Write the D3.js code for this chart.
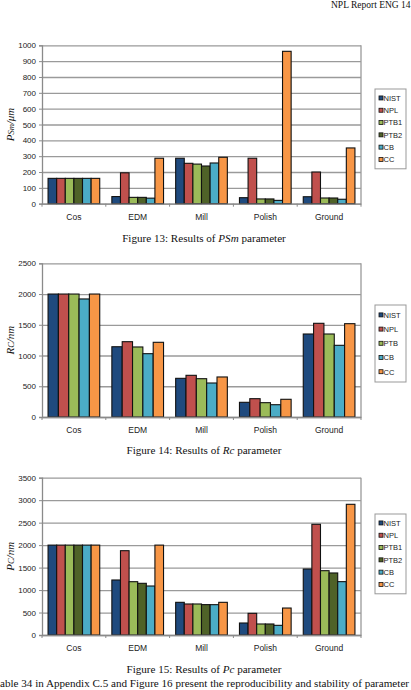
<!DOCTYPE html>
<html>
<head>
<meta charset="utf-8">
<script src="https://cdn.jsdelivr.net/npm/d3@7"></script>
<style>
  body { margin: 0; background: #fff; }
  svg { display: block; }
</style>
</head>
<body>
<div id="chart-area"></div>
<script>
// values
var categories = ["Cos", "EDM", "Mill", "Polish", "Ground"];

var psmSeries = ["NIST", "NPL", "PTB1", "PTB2", "CB", "CC"];
var psmValues = [
    [160, 160, 160, 160, 160, 160],
    [45, 195, 40, 40, 35, 287],
    [287, 255, 250, 238, 257, 293],
    [38, 287, 30, 30, 21, 962],
    [44, 200, 36, 36, 28, 352]
];
var psmTicks = [0, 100, 200, 300, 400, 500, 600, 700, 800, 900, 1000];

var rcSeries = ["NIST", "NPL", "PTB", "CB", "CC"];
var rcValues = [
    [2000, 2000, 2000, 1920, 2000],
    [1143, 1225, 1139, 1030, 1215],
    [629, 678, 623, 553, 651],
    [239, 298, 233, 200, 288],
    [1350, 1524, 1350, 1166, 1518]
];
var rcTicks = [0, 500, 1000, 1500, 2000, 2500];

var pcSeries = ["NIST", "NPL", "PTB1", "PTB2", "CB", "CC"];
var pcValues = [
    [2000, 2000, 2000, 2000, 2000, 2000],
    [1224, 1876, 1186, 1150, 1090, 2000],
    [727, 690, 690, 676, 675, 727],
    [267, 482, 245, 245, 215, 600],
    [1468, 2463, 1431, 1380, 1187, 2908]
];
var pcTicks = [0, 500, 1000, 1500, 2000, 2500, 3000, 3500];

var colors = {
    NIST: "#1f4a7e", NPL: "#c0504d", PTB: "#9bbb59", PTB1: "#9bbb59",
    PTB2: "#4f6228", CB: "#4bacc6", CC: "#f79646"
};

var W = 411, H = 690;
var svg = d3.select("#chart-area").append("svg")
    .attr("width", W)
    .attr("height", H);

// page header and running text
svg.append("text")
    .attr("x", 331).attr("y", 8)
    .attr("font-family", "Liberation Serif")
    .attr("font-size", "9.5px")
    .attr("fill", "#111")
    .text("NPL Report ENG 14");

svg.append("text")
    .attr("x", 0).attr("y", 687)
    .attr("font-family", "Liberation Serif")
    .attr("font-size", "11px")
    .attr("textLength", 409)
    .attr("lengthAdjust", "spacingAndGlyphs")
    .attr("fill", "#111")
    .text("able 34 in Appendix C.5 and Figure 16 present the reproducibility and stability of parameter");

function drawChart(cfg) {
    var left = 42, right = 361;
    var top = cfg.top, bottom = cfg.bottom;
    var g = svg.append("g");

    var x0 = d3.scaleBand()
        .domain(categories)
        .range([left, right])
        .paddingInner(0.19)
        .paddingOuter(0.095);
    var x1 = d3.scaleBand()
        .domain(cfg.series)
        .range([0, x0.bandwidth()]);
    var y = d3.scaleLinear()
        .domain([0, d3.max(cfg.ticks)])
        .range([bottom, top]);

    // gridlines
    g.append("g")
        .attr("transform", "translate(" + left + ",0)")
        .call(d3.axisLeft(y).tickValues(cfg.ticks).tickSize(-(right - left)).tickFormat(""))
        .call(s => s.select(".domain").remove())
        .selectAll("line")
            .attr("stroke", "#9a9a9a")
            .attr("stroke-width", 1.3);

    // right border
    g.append("line")
        .attr("x1", right).attr("x2", right)
        .attr("y1", y(d3.max(cfg.ticks))).attr("y2", bottom)
        .attr("stroke", "#9a9a9a").attr("stroke-width", 1.3);

    // bars
    var groups = g.selectAll("g.cat")
        .data(cfg.values)
        .enter().append("g")
        .attr("class", "cat")
        .attr("transform", (d, i) => "translate(" + x0(categories[i]) + ",0)");

    groups.selectAll("rect")
        .data(d => d.map((v, j) => ({ name: cfg.series[j], value: v })))
        .enter().append("rect")
        .attr("x", d => x1(d.name))
        .attr("y", d => y(d.value))
        .attr("width", x1.bandwidth())
        .attr("height", d => bottom - y(d.value))
        .attr("fill", d => colors[d.name])
        .attr("stroke", "#111")
        .attr("stroke-width", 1.1);

    // left axis
    g.append("g")
        .attr("transform", "translate(" + left + ",0)")
        .call(d3.axisLeft(y).tickValues(cfg.ticks).tickFormat(d3.format("d")).tickSize(3).tickPadding(3))
        .call(s => s.select(".domain").attr("stroke", "#8a8a8a").attr("stroke-width", 1.3))
        .call(s => s.selectAll("line").attr("stroke", "#8a8a8a"))
        .selectAll("text")
            .attr("font-family", "Liberation Sans")
            .attr("font-size", "8px")
            .attr("fill", "#222");

    // bottom axis
    var bx = g.append("g")
        .attr("transform", "translate(0," + bottom + ")")
        .call(d3.axisBottom(x0).tickSize(0).tickPadding(10).tickSizeOuter(0))
        .call(s => s.select(".domain").attr("stroke", "#8a8a8a").attr("stroke-width", 1.3));
    bx.selectAll("text")
        .attr("font-family", "Liberation Sans")
        .attr("font-size", "8.5px")
        .attr("fill", "#222");
    bx.selectAll("line.sep")
        .data(d3.range(categories.length + 1))
        .enter().append("line")
        .attr("class", "sep")
        .attr("x1", i => left + i * x0.step())
        .attr("x2", i => left + i * x0.step())
        .attr("y1", 0).attr("y2", 3)
        .attr("stroke", "#8a8a8a");

    // y label
    var yl = g.append("text")
        .attr("transform", "translate(14," + ((top + bottom) / 2) + ") rotate(-90)")
        .attr("text-anchor", "middle")
        .attr("font-family", "Liberation Serif")
        .attr("font-style", "italic")
        .attr("font-size", "11px")
        .attr("fill", "#111");
    yl.append("tspan").text(cfg.yMain);
    yl.append("tspan").attr("font-size", "8.5px").text(cfg.ySub);
    yl.append("tspan").text(cfg.yUnit);

    // legend
    var lg = g.append("g")
        .attr("transform", "translate(375," + cfg.legendTop + ")");
    lg.append("rect")
        .attr("width", 31)
        .attr("height", cfg.series.length * cfg.legendStep + 6)
        .attr("fill", "#fff")
        .attr("stroke", "#999")
        .attr("stroke-width", 1);
    var items = lg.selectAll("g.item")
        .data(cfg.series)
        .enter().append("g")
        .attr("class", "item")
        .attr("transform", (d, i) => "translate(3," + (3 + cfg.legendStep * (i + 0.5)) + ")");
    items.append("rect")
        .attr("x", 1).attr("y", -2.2)
        .attr("width", 4).attr("height", 4)
        .attr("fill", d => colors[d])
        .attr("stroke", "#111")
        .attr("stroke-width", 0.8);
    items.append("text")
        .attr("x", 5.5).attr("y", 2.7)
        .attr("font-family", "Liberation Sans")
        .attr("font-size", "7.5px")
        .attr("fill", "#222")
        .text(d => d);

    // caption
    var cap = svg.append("text")
        .attr("x", 204).attr("y", cfg.captionY)
        .attr("text-anchor", "middle")
        .attr("font-family", "Liberation Serif")
        .attr("font-size", "11.1px")
        .attr("fill", "#111");
    cap.append("tspan").text(cfg.caption[0]);
    cap.append("tspan").attr("font-style", "italic").text(cfg.caption[1]);
    cap.append("tspan").text(cfg.caption[2]);
}

drawChart({
    top: 45.3, bottom: 203.7, series: psmSeries, values: psmValues, ticks: psmTicks,
    yMain: "P", ySub: "Sm", yUnit: "/\u03bcm",
    legendTop: 89, legendStep: 12.3,
    captionY: 242, caption: ["Figure 13: Results of ", "PSm", " parameter"]
});

drawChart({
    top: 263.3, bottom: 417, series: rcSeries, values: rcValues, ticks: rcTicks,
    yMain: "R", ySub: "C", yUnit: "/nm",
    legendTop: 305, legendStep: 14.2,
    captionY: 454, caption: ["Figure 14: Results of ", "Rc", " parameter"]
});

drawChart({
    top: 477.7, bottom: 635, series: pcSeries, values: pcValues, ticks: pcTicks,
    yMain: "P", ySub: "C", yUnit: "/nm",
    legendTop: 514, legendStep: 12.3,
    captionY: 673, caption: ["Figure 15: Results of ", "Pc", " parameter"]
});
</script>
</body>
</html>
